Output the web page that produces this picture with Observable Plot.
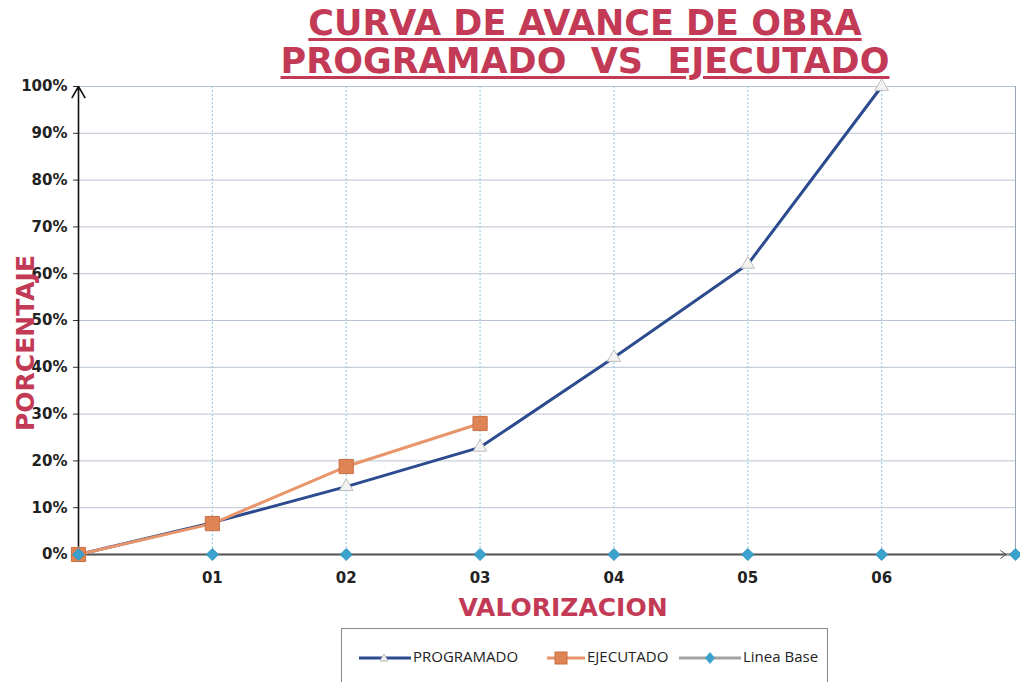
<!DOCTYPE html>
<html><head><meta charset="utf-8">
<script src="https://cdn.jsdelivr.net/npm/d3@7"></script>
<script src="https://cdn.jsdelivr.net/npm/@observablehq/plot@0.6"></script>
<style>
body{margin:0;background:#fff;}
#wrap{position:relative;width:1020px;height:682px;overflow:hidden;background:#fff;}
#chart{position:absolute;left:0;top:0;}
.t{position:absolute;font-family:"DejaVu Sans",sans-serif;font-weight:bold;color:#c23a55;white-space:pre;}
#title{left:0;width:1170px;top:4px;text-align:center;font-size:35px;line-height:38px;}
#title span{text-decoration:underline;text-decoration-thickness:3px;text-underline-offset:3px;}
#ylab{left:-74px;width:200px;top:328px;height:30px;line-height:30px;text-align:center;font-size:25px;transform:rotate(-90deg);}
#xlab{left:363px;width:400px;top:593px;text-align:center;font-size:25px;line-height:30px;}
#legend{position:absolute;left:341px;top:628px;width:487px;height:70px;border:1px solid #8a8a8a;box-sizing:border-box;font-family:"Open Sans",sans-serif;font-size:15px;color:#222;}
#legend .it{position:absolute;top:16px;height:22px;line-height:22px;white-space:nowrap;}
#legend svg{vertical-align:middle;margin-right:2px;}
</style>
</head><body>
<div id="wrap">
<div id="chart"></div>
<div id="title" class="t"><span>CURVA DE AVANCE DE OBRA</span><br><span>PROGRAMADO  VS  EJECUTADO</span></div>
<div id="ylab" class="t">PORCENTAJE</div>
<div id="xlab" class="t">VALORIZACION</div>
<div id="legend"></div>
</div>
<script>
const xLabels = ["01","02","03","04","05","06"];
const programado = [0, 0.068, 0.145, 0.229, 0.421, 0.62, 1.0];
const ejecutado = [0, 0.066, 0.188, 0.28];
const lineaBase = [0, 0, 0, 0, 0, 0, 0, 0];
const yTicks = [0, 0.1, 0.2, 0.3, 0.4, 0.5, 0.6, 0.7, 0.8, 0.9, 1.0];
const seriesNames = ["PROGRAMADO", "EJECUTADO", "Linea Base"];

const toPts = arr => arr.map((v, i) => ({x: i, y: v}));
const progPts = toPts(programado), ejecPts = toPts(ejecutado), basePts = toPts(lineaBase);
const xTickPos = xLabels.map((d, i) => i + 1);

const C = {prog: "#2c4b8e", ejec: "#e8956b", ejecFill: "#df8455", base: "#a3a3a3", diamond: "#3aa2cc"};

const chart = Plot.plot({
  width: 1020, height: 682,
  marginLeft: 78, marginRight: 5, marginTop: 86, marginBottom: 128,
  x: {domain: [0, lineaBase.length - 1], label: null},
  y: {domain: [0, 1], label: null},
  style: {fontFamily: "DejaVu Sans, sans-serif", fontWeight: "bold", fontSize: "15px", color: "#222", background: "transparent", overflow: "visible"},
  marks: [
    Plot.gridY(yTicks, {stroke: "#b9c4d2", strokeOpacity: 1, strokeWidth: 1}),
    Plot.gridX(xTickPos, {stroke: "#9fd0e8", strokeOpacity: 1, strokeDasharray: "2,2", strokeWidth: 1.2}),
    Plot.ruleX([lineaBase.length - 1], {stroke: "#9aa6b4", strokeWidth: 1}),
    Plot.axisY(yTicks, {tickFormat: d3.format(".0%"), tickSize: 5, tickPadding: 6, fontSize: 15, fontWeight: "bold", fill: "#222", stroke: "#333", label: null}),
    Plot.axisX(xTickPos, {tickFormat: d => xLabels[d - 1], tickSize: 0, tickPadding: 18, fontSize: 15, fontWeight: "bold", fill: "#222", label: null}),
    Plot.line(basePts, {x: "x", y: "y", stroke: C.base, strokeWidth: 3}),
    Plot.arrow([0], {x1: () => 0, y1: () => 0, x2: () => lineaBase.length - 1.07, y2: () => 0, stroke: "#555", strokeWidth: 1, headLength: 10, headAngle: 70}),
    Plot.arrow([0], {x1: () => 0, y1: () => 0, x2: () => 0, y2: () => 1, stroke: "#111", strokeWidth: 1.6, headLength: 12, headAngle: 60}),
    Plot.line(progPts, {x: "x", y: "y", stroke: C.prog, strokeWidth: 3}),
    Plot.line(ejecPts, {x: "x", y: "y", stroke: C.ejec, strokeWidth: 3}),
    Plot.dot(progPts, {x: "x", y: "y", symbol: "triangle", r: 5, fill: "#f2f2f2", stroke: "#bfbfbf", strokeWidth: 1}),
    Plot.dot(ejecPts, {x: "x", y: "y", symbol: "square", r: 8, fill: C.ejecFill, stroke: "#c96f42", strokeWidth: 1}),
    Plot.dot(basePts, {x: "x", y: "y", symbol: "diamond2", r: 5.5, fill: C.diamond, stroke: "#2f8fb8", strokeWidth: 0.8})
  ]
});
document.getElementById("chart").appendChild(chart);

// legend
const leg = document.getElementById("legend");
const items = [
  {name: seriesNames[0], left: 15, w: 54, mx: 27, stroke: C.prog, sym: "tri"},
  {name: seriesNames[1], left: 203, w: 40, mx: 16, stroke: C.ejec, sym: "sq"},
  {name: seriesNames[2], left: 335, w: 64, mx: 33, stroke: C.base, sym: "dia"}
];
items.forEach(it => {
  let mk = "";
  const m = it.mx;
  if (it.sym === "tri") mk = `<path d="M${m},6 L${m+4},13 L${m-4},13 Z" fill="#f2f2f2" stroke="#bbb"/>`;
  if (it.sym === "sq") mk = `<rect x="${m-6}" y="4" width="12" height="12" fill="${C.ejecFill}" stroke="#c96f42"/>`;
  if (it.sym === "dia") mk = `<path d="M${m},4 L${m+5},10 L${m},16 L${m-5},10 Z" fill="${C.diamond}"/>`;
  const div = document.createElement("div");
  div.className = "it";
  div.style.left = it.left + "px";
  div.innerHTML = `<svg width="${it.w}" height="20"><line x1="2" y1="10" x2="${it.w}" y2="10" stroke="${it.stroke}" stroke-width="3"/>${mk}</svg>${it.name}`;
  leg.appendChild(div);
});
</script>
</body></html>
